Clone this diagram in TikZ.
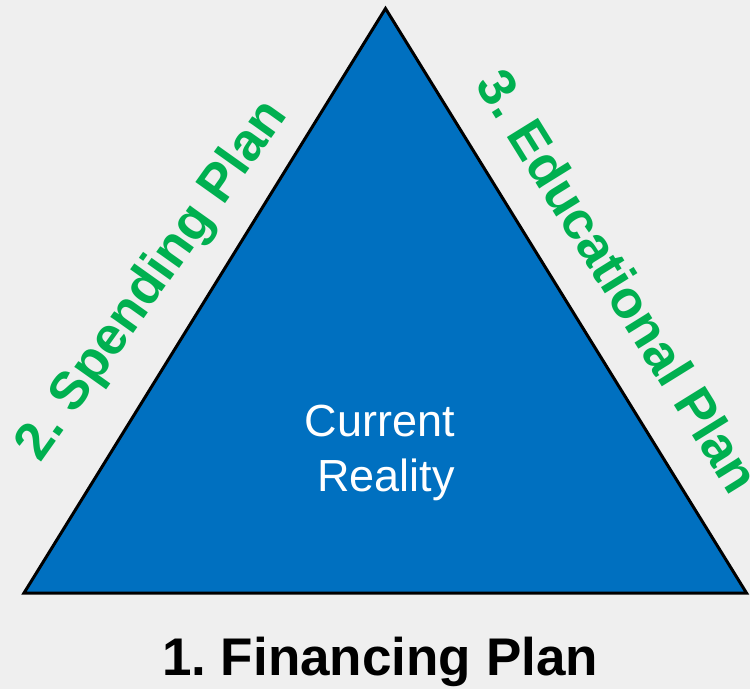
\documentclass[tikz,border=0pt]{standalone}
\usepackage{fontspec}
\setmainfont{Liberation Sans}
\frenchspacing
\definecolor{paper}{HTML}{EFEFEF}
\definecolor{planblue}{HTML}{0070C0}
\definecolor{plangreen}{HTML}{00B050}
\begin{document}
\begin{tikzpicture}[x=1pt,y=1pt,
  sidelabel/.style={font=\fontsize{53}{63}\selectfont\bfseries, text=plangreen, anchor=base, inner sep=0pt},
  centrelabel/.style={font=\fontsize{45}{55}\selectfont, text=white, anchor=base east, inner sep=0pt}]
  % page
  \fill[paper] (0,0) rectangle (750,689);
  \useasboundingbox (0,0) rectangle (750,689);
  \clip (0,0) rectangle (750,689);
  % triangle corners
  \coordinate (apex) at (385.5,680.5);
  \coordinate (bl) at (24,96);
  \coordinate (br) at (746.5,96);
  \draw[line width=3pt, line join=miter, fill=planblue] (bl) -- (apex) -- (br) -- cycle;
  % side labels
  \node[sidelabel, rotate=54.6] (spend) at (164.5,399.5) {2. Spending Plan};
  \node[sidelabel, rotate=-58.2] (edu) at (603,398) {3. Educational Plan};
  % centre text
  \node[centrelabel] (cur) at (455,252) {Current};
  \node[centrelabel] (real) at (455,197) {Reality};
  % base label
  \node[font=\fontsize{53}{64}\selectfont\bfseries, anchor=base, inner sep=0pt] (fin) at (380,14) {1. Financing Plan};
\end{tikzpicture}
\end{document}
